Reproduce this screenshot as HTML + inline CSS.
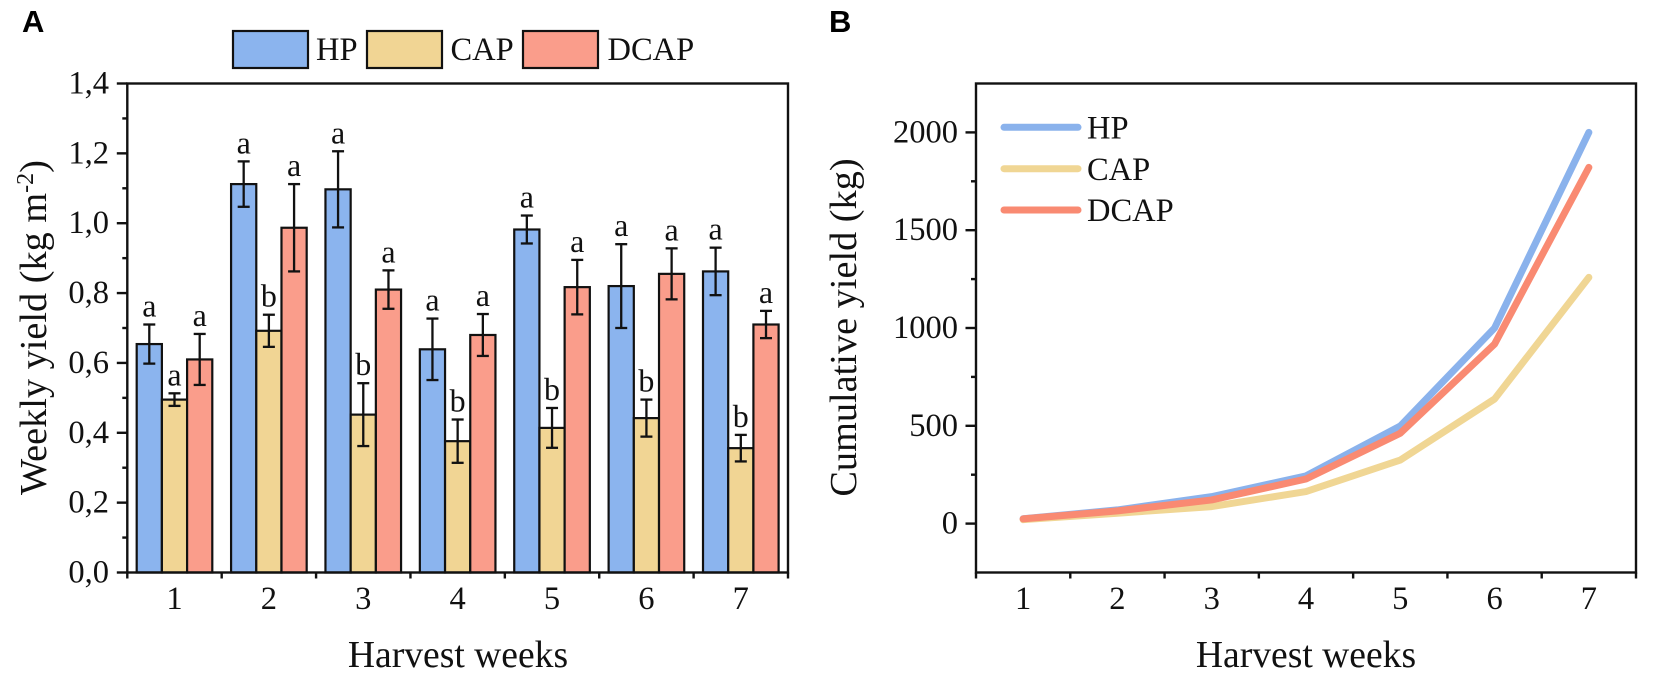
<!DOCTYPE html>
<html lang="en">
<head>
<meta charset="utf-8">
<title>Weekly and cumulative yield</title>
<style>
html,body{margin:0;padding:0;background:#fff;}
svg{display:block;}
text{font-family:"Liberation Serif",serif;fill:#111;}
.panel{font-family:"Liberation Sans",sans-serif;font-weight:700;font-size:31px;fill:#000;}
.title{font-size:37.6px;}
.ytitle{font-size:38.3px;}
.tick{font-size:32.5px;}
.leg{font-size:32.5px;}
.sig{font-size:32px;text-anchor:middle;}
</style>
</head>
<body>
<svg id="fig" xmlns="http://www.w3.org/2000/svg" width="1653" height="688" viewBox="0 0 1653 688">
  <rect x="0" y="0" width="1653" height="688" fill="#fff"/>
  <text class="panel" x="22" y="32">A</text>
  <text class="panel" x="829" y="32">B</text>

  <g id="panelA"></g>
  <g id="panelB"></g>

  <text class="ytitle" text-anchor="middle" transform="translate(46 327.5) rotate(-90)">Weekly yield (kg m<tspan font-size="24" dy="-13">-2</tspan><tspan dy="13">)</tspan></text>
  <text class="title" text-anchor="middle" x="458" y="667">Harvest weeks</text>
  <text class="ytitle" text-anchor="middle" transform="translate(856 327.5) rotate(-90)">Cumulative yield (kg)</text>
  <text class="title" text-anchor="middle" x="1306" y="667">Harvest weeks</text>

  <g>
    <rect x="233" y="31" width="75" height="37" fill="#8bb4ee" stroke="#111" stroke-width="2.2"/>
    <text class="leg" x="316" y="60">HP</text>
    <rect x="367" y="31" width="75" height="37" fill="#f1d594" stroke="#111" stroke-width="2.2"/>
    <text class="leg" x="450.5" y="60">CAP</text>
    <rect x="523" y="31" width="75" height="37" fill="#fa9d8b" stroke="#111" stroke-width="2.2"/>
    <text class="leg" x="607.5" y="60">DCAP</text>
  </g>

  <g>
    <line x1="1004" x2="1078" y1="127.3" y2="127.3" stroke="#8ab2ec" stroke-width="7" stroke-linecap="round"/>
    <text class="leg" x="1087" y="138.5">HP</text>
    <line x1="1004" x2="1078" y1="168.7" y2="168.7" stroke="#f0d694" stroke-width="7" stroke-linecap="round"/>
    <text class="leg" x="1087" y="180">CAP</text>
    <line x1="1004" x2="1078" y1="210" y2="210" stroke="#f98a72" stroke-width="7" stroke-linecap="round"/>
    <text class="leg" x="1087" y="221">DCAP</text>
  </g>
</svg>
<script>
// ---- data: shared
const weeks = [1, 2, 3, 4, 5, 6, 7];
const seriesNames = ['hp', 'cap', 'dcap'];

// ---- data: panel A (weekly yield, kg m-2)
const weeklyHP = [0.654, 1.112, 1.097, 0.639, 0.982, 0.820, 0.862];
const weeklyCAP = [0.495, 0.692, 0.452, 0.376, 0.414, 0.442, 0.356];
const weeklyDCAP = [0.610, 0.987, 0.810, 0.680, 0.817, 0.855, 0.710];
const errorHP = [0.056, 0.065, 0.109, 0.088, 0.040, 0.120, 0.068];
const errorCAP = [0.018, 0.046, 0.090, 0.062, 0.057, 0.053, 0.038];
const errorDCAP = [0.073, 0.125, 0.055, 0.060, 0.078, 0.073, 0.039];
const lettersHP = ['a', 'a', 'a', 'a', 'a', 'a', 'a'];
const lettersCAP = ['a', 'b', 'b', 'b', 'b', 'b', 'b'];
const lettersDCAP = ['a', 'a', 'a', 'a', 'a', 'a', 'a'];
const weeklyTickValues = [0, 0.2, 0.4, 0.6, 0.8, 1.0, 1.2, 1.4];
const weeklyTickLabels = ['0,0', '0,2', '0,4', '0,6', '0,8', '1,0', '1,2', '1,4'];
const weeklyMinorTicks = [0.1, 0.3, 0.5, 0.7, 0.9, 1.1, 1.3];

// ---- data: panel B (cumulative yield, kg)
const cumulativeHP = [25, 70, 138, 244, 499, 1000, 2000];
const cumulativeCAP = [20, 53, 87, 164, 325, 637, 1259];
const cumulativeDCAP = [24, 65, 121, 228, 462, 918, 1821];
const cumulativeTickValues = [0, 500, 1000, 1500, 2000];
const cumulativeTickLabels = ['0', '500', '1000', '1500', '2000'];
const cumulativeMinorTicks = [250, 750, 1250, 1750];

const NS = 'http://www.w3.org/2000/svg';
const INK = '#111';
const AXW = 2.4;
const TOP = 83.5, BOTTOM = 572.5;
const A = {left: 127.3, right: 788, yMin: 0, yMax: 1.4};
const B = {left: 976, right: 1636, yMin: -250, yMax: 2250};

function xScale(p, w) { return p.left + (w - 0.5) * (p.right - p.left) / weeks.length; }
function yScale(p, v) { return BOTTOM - (v - p.yMin) / (p.yMax - p.yMin) * (BOTTOM - TOP); }

function mk(parent, tag, attrs, text) {
  const el = document.createElementNS(NS, tag);
  for (const k in attrs) el.setAttribute(k, attrs[k]);
  if (text !== undefined) el.textContent = text;
  parent.appendChild(el);
  return el;
}
function hline(parent, x1, x2, y, w) {
  return mk(parent, 'line', {x1: x1, x2: x2, y1: y, y2: y, stroke: INK, 'stroke-width': w});
}
function vline(parent, x, y1, y2, w) {
  return mk(parent, 'line', {x1: x, x2: x, y1: y1, y2: y2, stroke: INK, 'stroke-width': w});
}

function drawAxes(root, p, prefix, tickValues, tickLabels, minorTicks, labelRight) {
  const frame = mk(root, 'rect', {x: p.left, y: TOP, width: p.right - p.left, height: BOTTOM - TOP, fill: 'none', stroke: INK, 'stroke-width': AXW});
  
  

  tickValues.forEach(function (v, i) {
    const y = yScale(p, v);
    const t = hline(root, p.left - 10.5, p.left, y, AXW);
    
    
    const lab = mk(root, 'text', {class: 'tick', x: labelRight, y: y + 10, 'text-anchor': 'end'}, tickLabels[i]);
    
    
  });
  minorTicks.forEach(function (v) {
    const t = hline(root, p.left - 5, p.left, yScale(p, v), AXW);
    
    
  });
  for (let i = 0; i <= weeks.length; i++) {
    const x = xScale(p, i + 0.5);
    const t = vline(root, x, BOTTOM, BOTTOM + 6, AXW);
    
    
  }
  weeks.forEach(function (w) {
    const lab = mk(root, 'text', {class: 'tick', x: xScale(p, w), y: 609, 'text-anchor': 'middle'}, String(w));
    
    
  });
}

// ---- panel A
(function () {
  const root = document.getElementById('panelA');
  const values = [weeklyHP, weeklyCAP, weeklyDCAP];
  const errors = [errorHP, errorCAP, errorDCAP];
  const letters = [lettersHP, lettersCAP, lettersDCAP];
  const fills = ['#8bb4ee', '#f1d594', '#fa9d8b'];
  const barWidthUnits = 0.267;
  const unit = (A.right - A.left) / weeks.length;
  const barW = barWidthUnits * unit;

  seriesNames.forEach(function (name, s) {
    weeks.forEach(function (w, i) {
      const cx = xScale(A, w) + (s - 1) * barW;
      const v = values[s][i];
      const bar = mk(root, 'rect', {x: cx - barW / 2, y: yScale(A, v), width: barW, height: yScale(A, 0) - yScale(A, v), fill: fills[s], stroke: INK, 'stroke-width': 2.2});
      
      
    });
  });

  drawAxes(root, A, 'a', weeklyTickValues, weeklyTickLabels, weeklyMinorTicks, 109);

  seriesNames.forEach(function (name, s) {
    weeks.forEach(function (w, i) {
      const cx = xScale(A, w) + (s - 1) * barW;
      const v = values[s][i], e = errors[s][i];
      const yt = yScale(A, v + e), yb = yScale(A, v - e);
      const g = mk(root, 'g', {});
      
      
      vline(g, cx, yt, yb, 2.3);
      hline(g, cx - 6, cx + 6, yt, 2.3);
      hline(g, cx - 6, cx + 6, yb, 2.3);
      const sig = mk(root, 'text', {class: 'sig', x: cx, y: yt - 8}, letters[s][i]);
      
      
    });
  });
})();

// ---- panel B
(function () {
  const root = document.getElementById('panelB');
  const values = [cumulativeHP, cumulativeCAP, cumulativeDCAP];
  const strokes = ['#8ab2ec', '#f0d694', '#f98a72'];

  drawAxes(root, B, 'b', cumulativeTickValues, cumulativeTickLabels, cumulativeMinorTicks, 958);

  seriesNames.forEach(function (name, s) {
    const pts = weeks.map(function (w, i) {
      return xScale(B, w).toFixed(2) + ',' + yScale(B, values[s][i]).toFixed(2);
    }).join(' ');
    const line = mk(root, 'polyline', {points: pts, fill: 'none', stroke: strokes[s], 'stroke-width': 7, 'stroke-linecap': 'round', 'stroke-linejoin': 'round'});
    
    
  });
})();
</script>
</body>
</html>
